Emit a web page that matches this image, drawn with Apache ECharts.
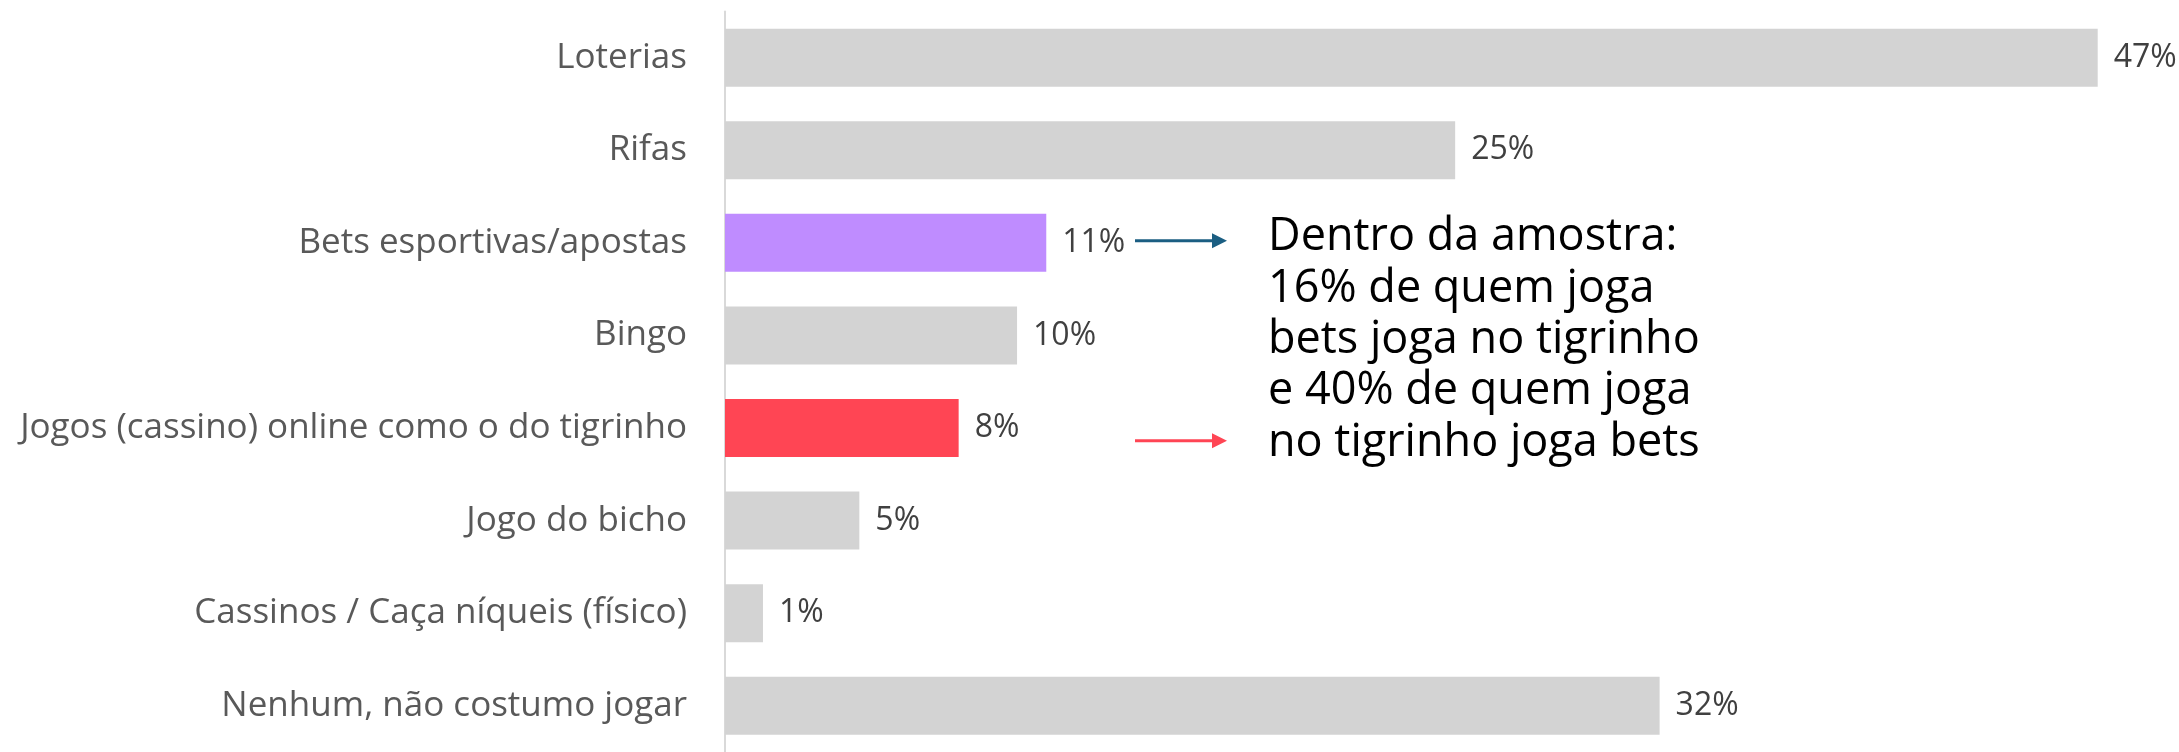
<!DOCTYPE html>
<html>
<head>
<meta charset="utf-8">
<script src="https://cdn.jsdelivr.net/npm/echarts@6/dist/echarts.min.js"></script>
<style>
  html, body { margin: 0; padding: 0; background: #fff; }
  #main { width: 2179px; height: 752px; }
</style>
</head>
<body>
<div id="main"></div>
<script>
// dados (%)
const categories = [
  'Loterias',
  'Rifas',
  'Bets esportivas/apostas',
  'Bingo',
  'Jogos (cassino) online como o do tigrinho',
  'Jogo do bicho',
  'Cassinos / Caça níqueis (físico)',
  'Nenhum, não costumo jogar'
];
const values = [47, 25, 11, 10, 8, 4.6, 1.3, 32];
const noteLines = [
  'Dentro da amostra:',
  '16% de quem joga',
  'bets joga no tigrinho',
  'e 40% de quem joga',
  'no tigrinho joga bets'
];

const FONT = '"Open Sans", sans-serif';
const GRAY = '#d3d3d3';
const highlight = {
  'Bets esportivas/apostas': '#bf8cff',
  'Jogos (cassino) online como o do tigrinho': '#ff4554'
};

const mainEl = document.querySelector('#main');
const myChart = echarts.init(mainEl);

function arrow(x1, x2, y, color) {
  return {
    type: 'group',
    children: [
      { type: 'line', shape: { x1: x1, y1: y, x2: x2 - 12, y2: y }, style: { stroke: color, lineWidth: 3 } },
      { type: 'polygon', shape: { points: [[x2 - 15, y - 7.5], [x2, y], [x2 - 15, y + 7.5]] }, style: { fill: color } }
    ]
  };
}

let option = {
  animation: false,
  backgroundColor: '#fff',
  grid: { left: 725, top: 11.4, width: 1372.7, height: 745.7 },
  xAxis: {
    type: 'value',
    min: 0,
    max: 47,
    show: false
  },
  yAxis: {
    type: 'category',
    data: categories,
    inverse: true,
    axisLine: { show: true, lineStyle: { color: '#d9d9d9', width: 2 } },
    axisTick: { show: false },
    axisLabel: { margin: 38, fontSize: 35, color: '#595959', fontFamily: FONT }
  },
  series: [
    {
      type: 'bar',
      barWidth: 58,
      data: values.map((v, i) => ({
        value: v,
        itemStyle: { color: highlight[categories[i]] || GRAY }
      })),
      label: {
        show: true,
        position: 'right',
        distance: 16,
        fontSize: 32,
        color: '#404040',
        fontFamily: FONT,
        formatter: (p) => Math.round(p.value) + '%'
      }
    }
  ],
  graphic: [
    arrow(1135, 1227, 240.7, '#1b5e82'),
    arrow(1135, 1227, 440.7, '#ff4554'),
    {
      type: 'text',
      left: 1268,
      top: 212,
      style: {
        text: noteLines.join('\n'),
        fontSize: 45,
        lineHeight: 51.3,
        fill: '#000',
        fontFamily: FONT
      }
    }
  ]
};

myChart.setOption(option);
</script>
</body>
</html>
